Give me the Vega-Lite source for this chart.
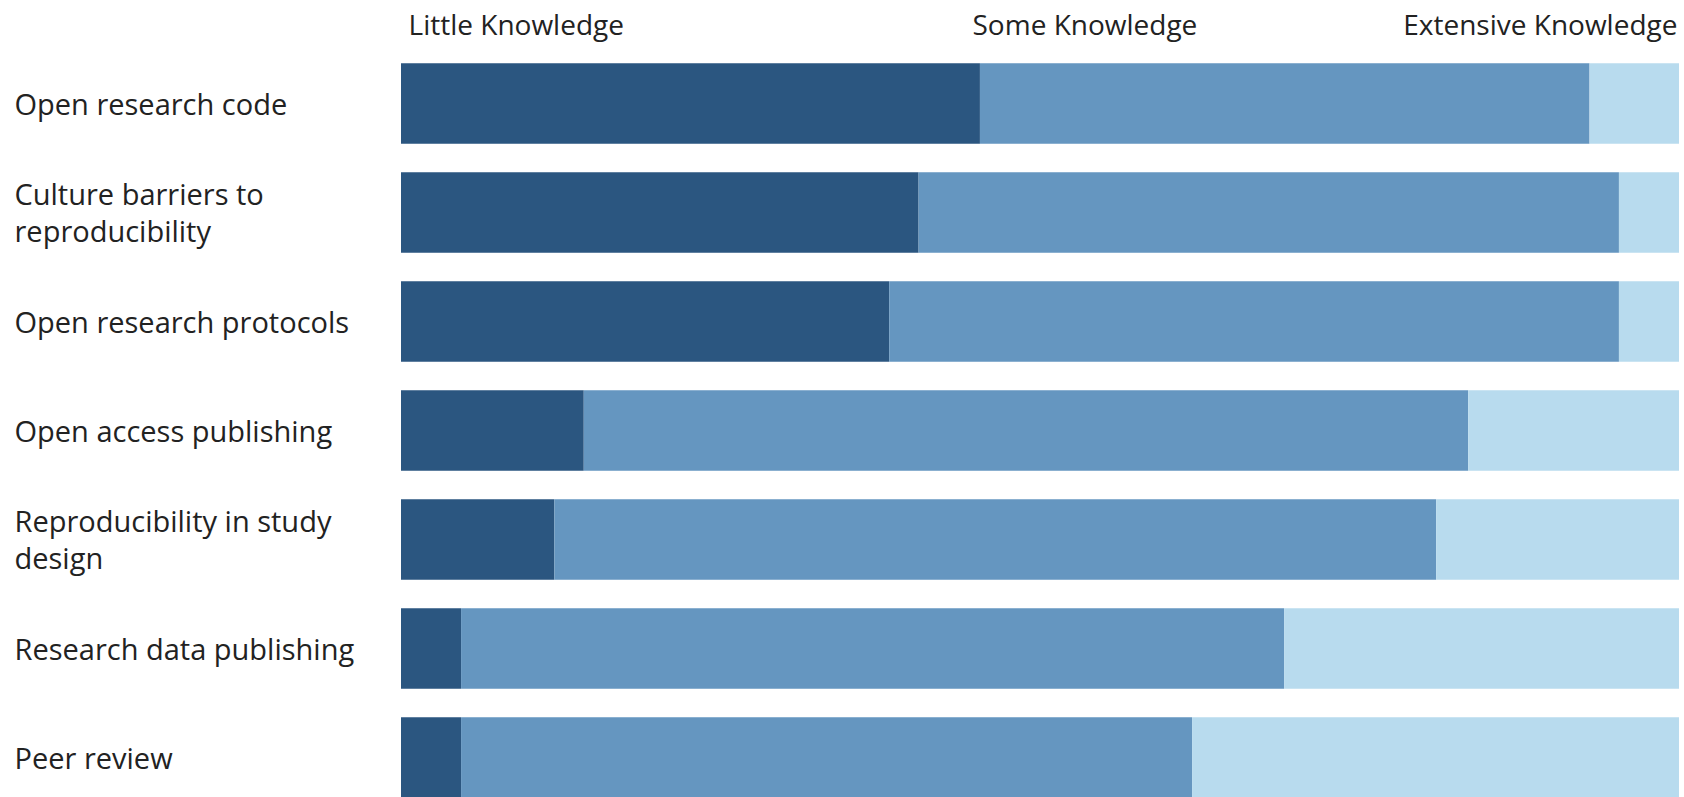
{
  "$schema": "https://vega.github.io/schema/vega-lite/v6.json",
  "autosize": {"type": "none"},
  "padding": {"left": 401, "top": 49, "right": 5, "bottom": 0},
  "width": 1278,
  "height": 763,
  "background": "white",
  "data": {
    "values": [
      {"topic": "Open research code", "level": "Little Knowledge", "pct": 45.3},
      {"topic": "Open research code", "level": "Some Knowledge", "pct": 47.7},
      {"topic": "Open research code", "level": "Extensive Knowledge", "pct": 7.0},
      {"topic": "Culture barriers to reproducibility", "level": "Little Knowledge", "pct": 40.5},
      {"topic": "Culture barriers to reproducibility", "level": "Some Knowledge", "pct": 54.8},
      {"topic": "Culture barriers to reproducibility", "level": "Extensive Knowledge", "pct": 4.7},
      {"topic": "Open research protocols", "level": "Little Knowledge", "pct": 38.2},
      {"topic": "Open research protocols", "level": "Some Knowledge", "pct": 57.1},
      {"topic": "Open research protocols", "level": "Extensive Knowledge", "pct": 4.7},
      {"topic": "Open access publishing", "level": "Little Knowledge", "pct": 14.3},
      {"topic": "Open access publishing", "level": "Some Knowledge", "pct": 69.2},
      {"topic": "Open access publishing", "level": "Extensive Knowledge", "pct": 16.5},
      {"topic": "Reproducibility in study design", "level": "Little Knowledge", "pct": 12.0},
      {"topic": "Reproducibility in study design", "level": "Some Knowledge", "pct": 69.0},
      {"topic": "Reproducibility in study design", "level": "Extensive Knowledge", "pct": 19.0},
      {"topic": "Research data publishing", "level": "Little Knowledge", "pct": 4.7},
      {"topic": "Research data publishing", "level": "Some Knowledge", "pct": 64.4},
      {"topic": "Research data publishing", "level": "Extensive Knowledge", "pct": 30.9},
      {"topic": "Peer review", "level": "Little Knowledge", "pct": 4.7},
      {"topic": "Peer review", "level": "Some Knowledge", "pct": 57.2},
      {"topic": "Peer review", "level": "Extensive Knowledge", "pct": 38.1}
    ]
  },
  "transform": [
    {"calculate": "indexof(['Little Knowledge', 'Some Knowledge', 'Extensive Knowledge'], datum.level)", "as": "levelOrder"}
  ],
  "mark": {"type": "bar"},
  "encoding": {
    "y": {
      "field": "topic",
      "type": "nominal",
      "sort": ["Open research code", "Culture barriers to reproducibility", "Open research protocols", "Open access publishing", "Reproducibility in study design", "Research data publishing", "Peer review"],
      "scale": {"paddingInner": 0.26, "paddingOuter": 0.13},
      "axis": {
        "title": null,
        "domain": false,
        "ticks": false,
        "labelAlign": "left",
        "labelBaseline": "middle",
        "labelPadding": 387,
        "labelOffset": {"condition": {"test": "datum.value == 'Culture barriers to reproducibility' || datum.value == 'Reproducibility in study design'", "value": -17}, "value": 2},
        "labelLimit": 400,
        "labelFont": "Open Sans",
        "labelFontSize": 29,
        "labelColor": "#222222",
        "labelLineHeight": 37,
        "labelExpr": "datum.value == 'Culture barriers to reproducibility' ? ['Culture barriers to', 'reproducibility'] : datum.value == 'Reproducibility in study design' ? ['Reproducibility in study', 'design'] : datum.value"
      }
    },
    "x": {
      "field": "pct",
      "type": "quantitative",
      "stack": "zero",
      "scale": {"domain": [0, 100], "nice": false},
      "axis": {
        "orient": "top",
        "title": null,
        "domain": false,
        "ticks": false,
        "grid": false,
        "values": [0.55, 44.68, 99.84],
        "labelExpr": "datum.value < 10 ? 'Little Knowledge' : datum.value < 90 ? 'Some Knowledge' : 'Extensive Knowledge'",
        "labelAlign": {"condition": {"test": "datum.value > 90", "value": "right"}, "value": "left"},
        "labelBaseline": "alphabetic",
        "labelPadding": 15,
        "labelFont": "Open Sans",
        "labelFontSize": 28,
        "labelColor": "#222222",
        "labelFlush": false,
        "labelOverlap": false,
        "labelLimit": 400
      }
    },
    "color": {
      "field": "level",
      "type": "nominal",
      "scale": {"domain": ["Little Knowledge", "Some Knowledge", "Extensive Knowledge"], "range": ["#2b5680", "#6596c0", "#b8dbee"]},
      "legend": null
    },
    "order": {"field": "levelOrder", "type": "quantitative", "sort": "ascending"}
  },
  "config": {
    "view": {"stroke": null},
    "font": "Open Sans"
  }
}
